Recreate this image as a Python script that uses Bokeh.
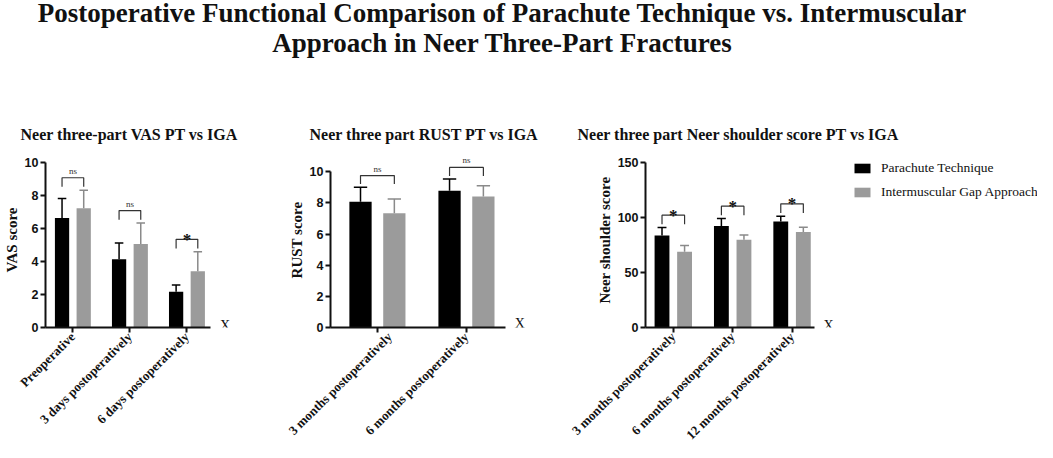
import numpy as np
from bokeh.plotting import figure
from bokeh.models import (Range1d, FixedTicker, Label, Legend, LegendItem, Div,
                          ColumnDataSource)
from bokeh.layouts import column, row
from bokeh.embed import file_html
from bokeh.resources import INLINE
from bokeh.core.properties import value

# ---------------- data ----------------
TITLE_LINE1 = "Postoperative Functional Comparison of Parachute Technique vs. Intermuscular"
TITLE_LINE2 = "Approach in Neer Three-Part Fractures"
SERIES = ["Parachute Technique", "Intermuscular Gap Approach"]

vas_title = "Neer three-part VAS PT vs IGA"
vas_ylabel = "VAS score"
vas_categories = ["Preoperative", "3 days postoperatively", "6 days postoperatively"]
vas_pt_mean = [6.64, 4.14, 2.17]
vas_pt_sd = [1.17, 0.98, 0.41]
vas_iga_mean = [7.23, 5.06, 3.40]
vas_iga_sd = [1.09, 1.27, 1.19]
vas_sig = ["ns", "ns", "*"]
vas_ticks = [0, 2, 4, 6, 8, 10]

rust_title = "Neer three part RUST PT vs IGA"
rust_ylabel = "RUST score"
rust_categories = ["3 months postoperatively", "6 months postoperatively"]
rust_pt_mean = [8.07, 8.78]
rust_pt_sd = [0.94, 0.75]
rust_iga_mean = [7.34, 8.42]
rust_iga_sd = [0.92, 0.69]
rust_sig = ["ns", "ns"]
rust_ticks = [0, 2, 4, 6, 8, 10]

neer_title = "Neer three part  Neer shoulder score PT vs IGA"
neer_ylabel = "Neer shoulder score"
neer_categories = ["3 months postoperatively", "6 months postoperatively",
                   "12 months postoperatively"]
neer_pt_mean = [83.5, 92.3, 96.4]
neer_pt_sd = [7.3, 6.7, 4.7]
neer_iga_mean = [68.9, 79.7, 86.7]
neer_iga_sd = [5.5, 4.4, 4.4]
neer_sig = ["*", "*", "*"]
neer_ticks = [0, 50, 100, 150]

x_axis_name = "X"

# ---------------- style ----------------
SERIF = "Liberation Serif"
SANS = "Liberation Sans"
BLACK = "#000000"
GRAY = "#9b9b9b"
GRAY_ERR = "#8a8a8a"
BAR_W = 0.25
OFF = 0.19
CAP = 0.075
TOP = 38


def panel(title, ylabel, cats, pt_m, pt_sd, iga_m, iga_sd, sig, ticks, *,
          width, left, right, axis_px, frame_h, bottom, x_start, axis_end,
          y_end, title_offset, x_label_dy):
    # frame extends past the x-axis end; the axis line is limited by bounds
    frame_w = width - left - right
    ppu = axis_px / (axis_end - x_start)
    x_end = x_start + frame_w / ppu
    p = figure(width=width, height=TOP + frame_h + bottom,
               x_range=Range1d(x_start, x_end), y_range=Range1d(0, y_end),
               output_backend="svg", toolbar_location=None,
               min_border_left=left, min_border_right=right,
               min_border_top=TOP, min_border_bottom=bottom,
               title=title)
    p.title.align = "left"
    p.title.offset = title_offset
    p.title.standoff = 19
    p.title.text_font = SERIF
    p.title.text_font_size = "16px"
    p.title.text_font_style = "bold"
    p.title.text_color = "#111111"
    p.outline_line_color = None
    p.grid.visible = False
    p.background_fill_color = "white"

    idx = np.arange(len(cats))
    pt_top = np.add(pt_m, pt_sd)
    iga_top = np.add(iga_m, iga_sd)
    src = ColumnDataSource(dict(
        x_pt=idx - OFF, x_iga=idx + OFF, pt=pt_m, iga=iga_m,
        pt_top=pt_top, iga_top=iga_top))

    r_pt = p.vbar(x="x_pt", top="pt", bottom=0, width=BAR_W, source=src,
                  fill_color=BLACK, line_color=None)
    r_iga = p.vbar(x="x_iga", top="iga", bottom=0, width=BAR_W, source=src,
                   fill_color=GRAY, line_color=None)

    # error bars (upper only)
    for xs, lo, hi, col in (("x_pt", "pt", "pt_top", BLACK),
                            ("x_iga", "iga", "iga_top", GRAY_ERR)):
        p.segment(x0=xs, y0=lo, x1=xs, y1=hi, source=src,
                  line_color=col, line_width=1.5)
    p.segment(x0=idx - OFF - CAP, y0=pt_top, x1=idx - OFF + CAP, y1=pt_top,
              line_color=BLACK, line_width=1.5)
    p.segment(x0=idx + OFF - CAP, y0=iga_top, x1=idx + OFF + CAP, y1=iga_top,
              line_color=GRAY_ERR, line_width=1.5)

    # significance brackets
    ymax = ticks[-1]
    b_top = np.maximum(pt_top, iga_top) + 0.075 * ymax
    b_leg = b_top - 0.055 * ymax
    xs = [[i - OFF, i - OFF, i + OFF, i + OFF] for i in idx]
    ys = [[l, t, t, l] for l, t in zip(b_leg, b_top)]
    p.multi_line(xs=xs, ys=ys, line_color="#333333", line_width=1.2)

    ns_i = [i for i, s in enumerate(sig) if s == "ns"]
    st_i = [i for i, s in enumerate(sig) if s != "ns"]
    if ns_i:
        p.text(x=[idx[i] for i in ns_i], y=[b_top[i] for i in ns_i],
               text=[sig[i] for i in ns_i], y_offset=-7,
               text_align="center", text_baseline="alphabetic",
               text_font=value(SERIF), text_font_size="9px",
               text_color="#333333")
    if st_i:
        p.text(x=[idx[i] for i in st_i], y=[b_top[i] for i in st_i],
               text=[sig[i] for i in st_i], y_offset=0,
               text_align="center", text_baseline="alphabetic",
               text_font=value(SERIF), text_font_size="17px",
               text_font_style="bold", text_color="#111111")

    # axes
    p.yaxis.ticker = FixedTicker(ticks=ticks)
    p.yaxis.bounds = (ticks[0], ticks[-1])
    p.yaxis.axis_label = ylabel
    p.yaxis.axis_label_text_font = SERIF
    p.yaxis.axis_label_text_font_size = "15px"
    p.yaxis.axis_label_text_font_style = "bold"
    p.yaxis.axis_label_standoff = 2
    p.yaxis.major_label_text_font = SANS
    p.yaxis.major_label_text_font_size = "12.5px"
    p.yaxis.major_label_text_font_style = "bold"
    p.yaxis.major_label_standoff = 2

    p.xaxis.ticker = FixedTicker(ticks=list(idx))
    p.xaxis.bounds = (x_start, axis_end)
    p.xaxis.major_label_overrides = {int(i): c for i, c in zip(idx, cats)}
    p.xaxis.major_label_orientation = 0.78
    p.xaxis.major_label_text_font = SERIF
    p.xaxis.major_label_text_font_size = "13px"
    p.xaxis.major_label_text_font_style = "bold"
    p.xaxis.major_label_standoff = 2

    for ax in (p.xaxis, p.yaxis):
        ax.axis_line_width = 2
        ax.axis_line_color = "#111111"
        ax.major_tick_line_width = 2
        ax.major_tick_line_color = "#111111"
        ax.major_tick_in = 0
        ax.major_tick_out = 5
        ax.minor_tick_line_color = None
        ax.major_label_text_color = "#111111"
        ax.axis_label_text_color = "#111111"

    p.add_layout(Label(x=axis_end, y=0, x_offset=9, y_offset=x_label_dy,
                       text=x_axis_name, text_font=SERIF,
                       text_font_size="14px", text_baseline="alphabetic",
                       text_color="#111111"))
    return p, r_pt, r_iga


p1, _, _ = panel(vas_title, vas_ylabel, vas_categories, vas_pt_mean, vas_pt_sd,
                 vas_iga_mean, vas_iga_sd, vas_sig, vas_ticks,
                 width=285, left=40, right=10, axis_px=169, frame_h=181,
                 bottom=117, x_start=-0.48, axis_end=2.42, y_end=10.6,
                 title_offset=-25, x_label_dy=2)
p2, _, _ = panel(rust_title, rust_ylabel, rust_categories, rust_pt_mean,
                 rust_pt_sd, rust_iga_mean, rust_iga_sd, rust_sig, rust_ticks,
                 width=282, left=40, right=10, axis_px=179, frame_h=190,
                 bottom=108, x_start=-0.527, axis_end=1.44, y_end=11.24,
                 title_offset=-21, x_label_dy=4)
p3, r_pt, r_iga = panel(neer_title, neer_ylabel, neer_categories, neer_pt_mean,
                        neer_pt_sd, neer_iga_mean, neer_iga_sd, neer_sig,
                        neer_ticks,
                        width=470, left=78, right=0, axis_px=169, frame_h=181,
                        bottom=117, x_start=-0.468, axis_end=2.378, y_end=159,
                        title_offset=-68, x_label_dy=2)

# legend: tuple location is the legend's bottom-left corner, from frame bottom-left
legend = Legend(items=[LegendItem(label=SERIES[0], renderers=[r_pt]),
                       LegendItem(label=SERIES[1], renderers=[r_iga])],
                location=(207, 181 - 12 - 44), glyph_width=20, glyph_height=12,
                label_height=20, spacing=4, padding=0, margin=0,
                label_standoff=9, border_line_color=None,
                background_fill_alpha=0, label_text_font=SERIF,
                label_text_font_size="13.5px", label_text_color="#111111")
p3.add_layout(legend)

title_html = (
    '<div style="margin-top:-7px;font-family:\'Liberation Serif\';'
    'font-weight:bold;font-size:27px;line-height:30px;text-align:center;'
    'width:994px;color:#111111">'
    f'{TITLE_LINE1}<br>{TITLE_LINE2}</div>'
)
div = Div(text=title_html, width=994, height=104)

layout = column(div, row(p1, p2, p3))
open("out.html", "w").write(file_html(layout, INLINE))
